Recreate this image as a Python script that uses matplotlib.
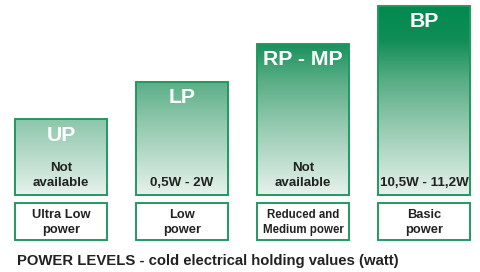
import numpy as np
import matplotlib
matplotlib.use('Agg')
import matplotlib.pyplot as plt
from matplotlib.colors import LinearSegmentedColormap
from matplotlib.patches import Rectangle

# power levels (bar heights are relative steps)
codes = ["UP", "LP", "RP - MP", "BP"]
levels = [1.0, 1.5, 2.0, 2.5]
values = ["Not\navailable", "0,5W - 2W", "Not\navailable", "10,5W - 11,2W"]
names = ["Ultra Low\npower", "Low\npower", "Reduced and\nMedium power", "Basic\npower"]
title = "POWER LEVELS - cold electrical holding values (watt)"

plt.rcParams['font.family'] = ['Liberation Sans', 'DejaVu Sans']

W, H, DPI = 481, 272, 100
fig = plt.figure(figsize=(W / DPI, H / DPI), dpi=DPI)
ax = fig.add_axes([0, 0, 1, 1])

# map data units to pixels: y=0 at 195px, y=2.5 at 6px
px_per_unit = 189 / 2.5
spacing = 121.0
x0 = 61.0
ax.set_xlim(-x0 / spacing, (W - x0) / spacing)
ax.set_ylim(-(H - 195) / px_per_unit, 195 / px_per_unit)
ax.axis('off')

green = '#1e9a5e'
cmap = LinearSegmentedColormap.from_list(
    'pw', [(0.0, '#e6f2ec'), (0.4, '#8cc6aa'), (0.6, '#5aae86'),
           (0.82, '#118e57'), (1.0, '#008a4f')])
grad = np.linspace(0, 1, 256).reshape(-1, 1)

x = np.arange(len(codes))
bw = 92 / spacing
bars = ax.bar(x, levels, width=bw, color='none', edgecolor=green, linewidth=1.4, zorder=3)

for i, b in enumerate(bars):
    im = ax.imshow(grad, cmap=cmap, origin='lower', aspect='auto',
                   extent=(x[i] - bw / 2, x[i] + bw / 2, 0, max(levels)), zorder=2)
    im.set_clip_path(b)

    ax.annotate(codes[i], (x[i], levels[i]), xytext=(0, -11.5), textcoords='offset points',
                ha='center', va='center', color='white', fontsize=15.3, fontweight='bold', zorder=4)
    ax.annotate(values[i], (x[i], 0), xytext=(0, 4), textcoords='offset points',
                ha='center', va='bottom', color='#222222', fontsize=9.6, fontweight='bold',
                linespacing=1.35, zorder=4)

    # name boxes under bars
    y_top = -8 / px_per_unit
    y_bot = -45 / px_per_unit
    ax.add_patch(Rectangle((x[i] - bw / 2, y_bot), bw, y_top - y_bot,
                           facecolor='white', edgecolor=green, linewidth=1.4, zorder=3))
    fs = 8.3 if i == 2 else 9.3
    ax.text(x[i], (y_top + y_bot) / 2 - 1 / px_per_unit, names[i], ha='center', va='center',
            color='#222222', fontsize=fs, fontweight='bold', linespacing=1.3, zorder=4)

fig.text(17 / W, 1 - 261 / H, title, ha='left', va='center',
         fontsize=10.7, fontweight='bold', color='#222222')

fig.savefig('out.png', dpi=DPI)
